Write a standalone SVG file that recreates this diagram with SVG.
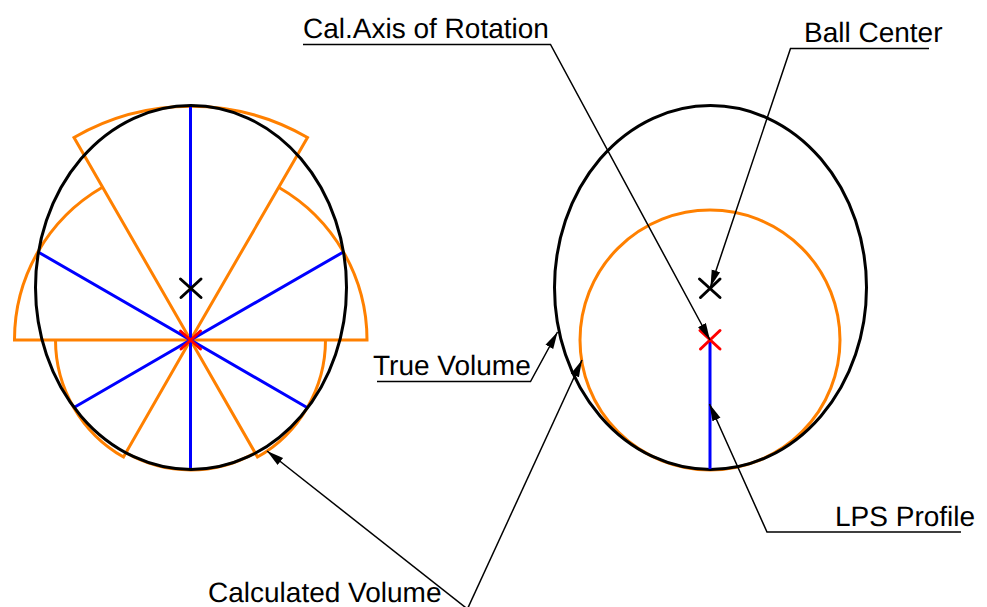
<svg xmlns="http://www.w3.org/2000/svg" width="987" height="607" viewBox="0 0 987 607">
<style>
.o{fill:none;stroke:#ff8000;stroke-width:3;stroke-linejoin:miter}
.b{fill:none;stroke:#0000ff;stroke-width:3}
.k{fill:none;stroke:#000;stroke-width:3}
.x{fill:none;stroke:#000;stroke-width:3;stroke-linecap:round}
.r{fill:none;stroke:#ff0000;stroke-width:3;stroke-linecap:round}
.l{fill:none;stroke:#000;stroke-width:1.5;marker-end:url(#a)}
text{font-family:"Liberation Sans",Arial,sans-serif;font-size:28px;fill:#000;text-rendering:geometricPrecision}
</style>
<defs>
<marker id="a" markerUnits="userSpaceOnUse" markerWidth="20" markerHeight="12" refX="17" refY="5" orient="auto"><path d="M0 0.600L17 5L0 9.400Z" fill="#000"/></marker>
</defs>
<rect width="987" height="607" fill="#fff"/>
<g id="left-volume">
<path class="o" d="M190.500 340L74 137.500A234 234 0 0 1 307.500 137.500Z"/>
<path class="o" d="M102 187.500A176 176 0 0 0 14.500 340H367A176 176 0 0 0 279 187.500"/>
<path class="o" d="M55.500 340A135 135 0 0 0 123.500 457L190.500 340L257.500 457A135 135 0 0 0 325.500 340"/>
<path class="o" d="M125.500 452.500A130 130 0 0 0 255.500 452.500"/>
<path class="b" d="M190.500 105.500V469.500M39 252.500L190.500 340L342.500 252.500M74 407.500L190.500 340L307 407.500"/>
<ellipse class="k" cx="191" cy="287.500" rx="155.500" ry="182"/>
<path class="x" d="M180.500 279L201 297.500M201 279L181 297.500"/>
<path class="r" d="M180.500 331L200.500 349M200.500 331L181 349"/>
</g>
<g id="right-volume">
<circle class="o" cx="710" cy="340" r="130"/>
<ellipse class="k" cx="710.500" cy="287.500" rx="156" ry="182"/>
<path class="b" d="M710 340V469"/>
<path class="x" d="M699.500 279L720 297.500M720 279L700.500 297.500"/>
<path class="r" d="M700 330.500L720 349M720 330.500L700.500 349"/>
</g>
<g id="connectors">
<path class="l" d="M303 44.500H550.500L710 340"/>
<path class="l" d="M929 48.500H790.500L710.500 287"/>
<path class="l" d="M377 381.500H530.500L557.500 332"/>
<path class="l" d="M961 532H767L709.500 404"/>
<path class="l" d="M470 611L267 451"/>
<path class="l" d="M466.500 611L582 360"/>
</g>
<g id="labels">
<text x="303" y="38">Cal.Axis of Rotation</text>
<text x="804" y="42">Ball Center</text>
<text x="373" y="375">True Volume</text>
<text x="835" y="526">LPS Profile</text>
<text x="208" y="602">Calculated Volume</text>
</g>
</svg>
